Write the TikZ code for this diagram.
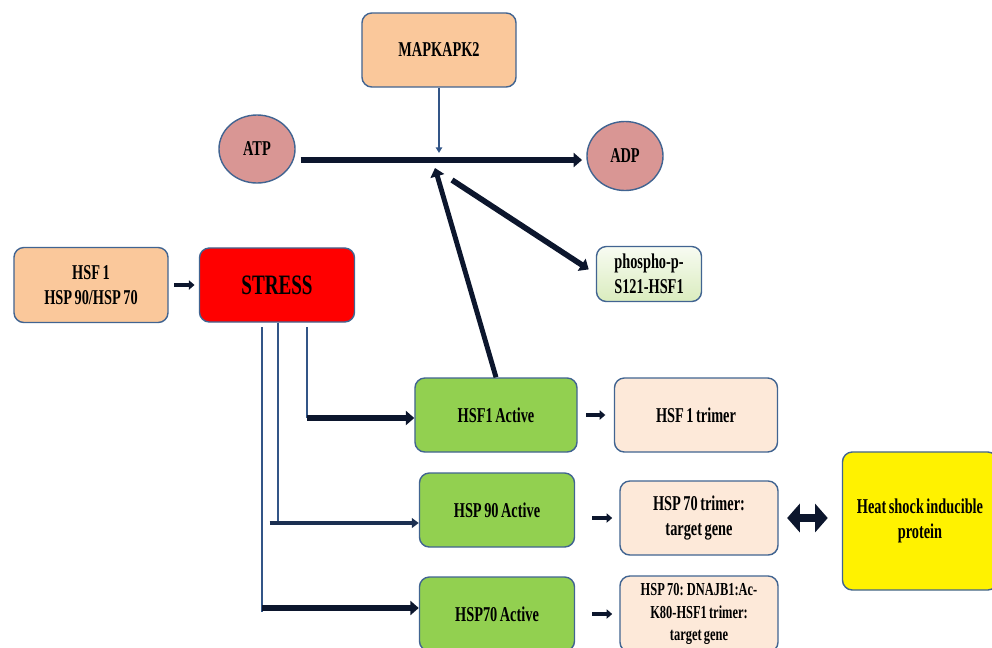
\documentclass[tikz,border=0pt]{standalone}
\usepackage{fontspec}
\setmainfont{Liberation Serif}[FakeStretch=0.68, WordSpace=0.7]
\usetikzlibrary{arrows.meta,shapes.geometric}

\definecolor{boxline}{RGB}{65,100,145}
\definecolor{peach}{RGB}{250,200,155}
\definecolor{pale}{RGB}{253,233,217}
\definecolor{leaf}{RGB}{146,208,80}
\definecolor{rose}{RGB}{217,150,148}
\definecolor{ink}{RGB}{12,22,45}
\definecolor{wire}{RGB}{50,85,135}
\definecolor{mint}{RGB}{218,236,190}

\begin{document}
\begin{tikzpicture}[x=0.025cm, y=-0.025cm,
    every node/.style={font=\bfseries\fontsize{15}{18}\selectfont, align=center},
    box/.style={draw=boxline, line width=1pt, rounded corners=7pt, minimum height=1.85cm},
    mol/.style={ellipse, draw=boxline, line width=1pt, fill=rose, minimum width=1.9cm, minimum height=1.7cm},
    bigarrow/.style={ink, line width=4pt, -{Triangle[length=6pt,width=10pt]}},
    smallarrow/.style={ink, line width=2.2pt, -{Triangle[length=4pt,width=6.5pt]}},
    feed/.style={wire, line width=1.4pt}]
    \useasboundingbox (0,0) rectangle (992,647);

    % Kinase
    \node[box, fill=peach, minimum width=3.85cm] (mapk) at (439,50) {MAPKAPK2};

    % Substrate and product
    \node[mol] (atp) at (257,149) {ATP};
    \node[mol, minimum height=1.725cm] (adp) at (625,156) {ADP};

    % Phosphorylated product
    \node[box, top color=mint!20, bottom color=mint, minimum width=2.625cm, minimum height=1.375cm]
        (phos) at (649,274) {phospho-p-\\S121-HSF1};

    % Resting complex and stress
    \node[box, fill=peach, minimum width=3.85cm, minimum height=1.875cm]
        (rest) at (91,285) {HSF 1\\HSP 90/HSP 70};
    \node[box, fill=red, minimum width=3.875cm, font=\bfseries\fontsize{20}{24}\selectfont]
        (stress) at (277,285) {STRESS};

    % Activated forms
    \node[box, fill=leaf, minimum width=4.05cm] (act1) at (496,415) {HSF1 Active};
    \node[box, fill=leaf, minimum width=3.875cm] (act90) at (497,510) {HSP 90 Active};
    \node[box, fill=leaf, minimum width=3.875cm] (act70) at (497,614) {HSP70 Active};

    % Trimers
    \node[box, fill=pale, minimum width=4.075cm] (tri1) at (696,415) {HSF 1 trimer};
    \node[box, fill=pale, minimum width=3.95cm] (tri70) at (699,518) {HSP 70 trimer:\\target gene};
    \node[box, fill=pale, minimum width=3.95cm, minimum height=1.9cm, font=\bfseries\fontsize{13}{16}\selectfont]
        (dnaj) at (699,614) {HSP 70: DNAJB1:Ac-\\K80-HSF1 trimer:\\target gene};

    % Induced protein
    \node[box, fill=yellow, minimum width=3.875cm, minimum height=3.45cm]
        (heat) at (920,521) {Heat shock inducible\\protein};

    % Reaction
    \coordinate (rxn) at (440,160);
    \draw[bigarrow, line width=4.5pt, shorten <=3.5pt, shorten >=3pt] (atp.east |- rxn) -- (adp.west |- rxn);
    \draw[wire, line width=1.3pt, -{Triangle[length=4pt,width=4.5pt]}, shorten >=5pt] (mapk.south) -- (mapk.south |- rxn);

    \coordinate (kin) at (435,168);
    \draw[bigarrow, line width=3.5pt] (act1.north) -- (kin);
    \coordinate (rel) at (452,180);
    \draw[bigarrow, shorten >=6pt] (rel) -- (phos.west);

    % Stress to activation
    \draw[smallarrow, shorten <=4pt, shorten >=3pt] (rest) -- (stress);

    \coordinate (f1) at (307,418);
    \coordinate (f2) at (278,523);
    \coordinate (f3) at (262,608);
    \draw[feed, shorten <=3pt] (stress.south -| f1) -- (f1);
    \draw[feed] (stress.south -| f2) -- (f2);
    \draw[feed, shorten <=3pt, shorten >=-3pt] (stress.south -| f3) -- (f3);
    \draw[bigarrow] (f1) -- (f1 -| act1.west);
    \draw[ink!60!wire, line width=2.2pt, -{Triangle[length=5pt,width=7pt]}, shorten <=-6pt] (f2) -- (f2 -| act90.west);
    \draw[bigarrow] (f3) -- (f3 -| act70.west);

    % Activation to trimers
    \draw[smallarrow, shorten <=6pt, shorten >=6pt] (act1) -- (tri1);
    \draw[smallarrow, shorten <=12pt, shorten >=5pt] (act90.east |- tri70) -- (tri70);
    \draw[smallarrow, shorten <=12pt, shorten >=5pt] (act70) -- (dnaj);

    % Binding
    \draw[ink, line width=6pt, {Triangle[length=9pt,width=20pt]}-{Triangle[length=9pt,width=20pt]}, shorten <=6pt, shorten >=10pt]
        (tri70.east) -- (tri70.east -| heat.west);
\end{tikzpicture}
\end{document}
